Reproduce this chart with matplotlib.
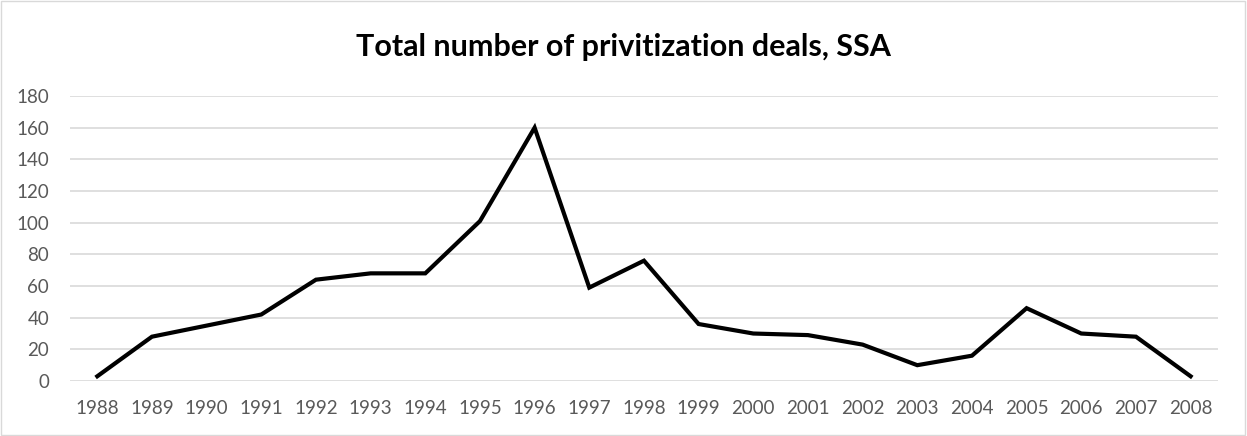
import matplotlib.pyplot as plt
from matplotlib.patches import Rectangle

# Data
years = [str(y) for y in range(1988, 2009)]
deals = [3, 28, 35, 42, 64, 68, 68, 101, 160, 59, 76, 36, 30, 29, 23, 10, 16, 46, 30, 28, 3]
y_ticks = list(range(0, 181, 20))

plt.rcParams['font.family'] = ['Lato', 'DejaVu Sans']

fig = plt.figure(figsize=(12.47, 4.36), dpi=100)
ax = fig.add_axes([0.0561, 0.1261, 0.9206, 0.6537])

x = list(range(len(years)))
ax.plot(x, deals, color='black', lw=3, solid_joinstyle='miter', zorder=3)

ax.set_xlim(-0.5, len(years) - 0.5)
ax.set_ylim(0, 180)
ax.set_xticks(x)
ax.set_xticklabels(years)
ax.set_yticks(y_ticks)

for s in ax.spines.values():
    s.set_visible(False)
ax.grid(axis='y', color='#d9d9d9', lw=1.2)
ax.set_axisbelow(True)
ax.tick_params(axis='both', length=0, labelsize=13.5, labelcolor='#595959')
ax.tick_params(axis='y', pad=15)
ax.tick_params(axis='x', pad=14)

fig.text(0.5, 0.893, 'Total number of privitization deals, SSA', ha='center', va='center',
         fontsize=22, fontweight='bold', color='black')

# light frame around the chart
fig.patches.append(Rectangle((0.001, 0.002), 0.997, 0.995, transform=fig.transFigure,
                             fill=False, edgecolor='#d9d9d9', lw=1))

fig.savefig('out.png', dpi=100)
